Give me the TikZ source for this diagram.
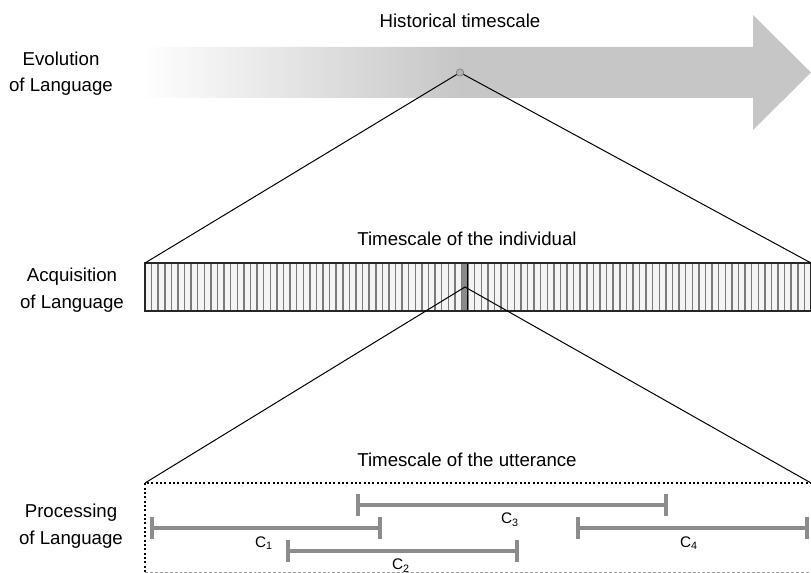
\documentclass[tikz,border=0pt]{standalone}
\usepackage{fontspec}
\setmainfont{Liberation Sans}
\usetikzlibrary{arrows.meta}

\definecolor{arrowgray}{RGB}{198,198,198}
\definecolor{spangray}{RGB}{140,140,140}
\definecolor{stripegray}{RGB}{122,122,122}
\definecolor{barfill}{RGB}{244,244,244}
\definecolor{markgray}{RGB}{138,138,138}

% fade of the historical arrow: white on the left, solid grey from the middle on
\pgfdeclarehorizontalshading{timefade}{100bp}{color(0bp)=(white); color(25bp)=(white); color(49bp)=(arrowgray); color(100bp)=(arrowgray)}

\tikzset{
  sidelabel/.style={align=center, inner sep=0pt, font=\fontsize{14}{20}\selectfont},
  scaletitle/.style={anchor=base, inner sep=0pt, font=\fontsize{14}{20}\selectfont},
  zoomline/.style={black, line width=0.75pt},
  stripe/.style={stripegray, line width=1.1pt},
  barborder/.style={draw=black!85, line width=1.1pt},
  uttedge/.style={black, line width=1.6pt, dash pattern=on 1.6pt off 1.65pt},
  uttbottom/.style={black!40, line width=0.5pt, dash pattern=on 2.2pt off 1.5pt},
  span/.style={spangray, line width=2.7pt,
    arrows={Bar[width=16.5pt, line width=3pt]-Bar[width=16.5pt, line width=3pt]}},
  spanlabel/.style={anchor=base, inner sep=0pt, font=\fontsize{11.5}{13}\selectfont},
  pivot/.style={circle, inner sep=0pt, minimum size=5.5pt, fill=black!30, draw=black!55, line width=0.4pt}
}

\begin{document}
\begin{tikzpicture}[x=0.75pt, y=-0.75pt]
\useasboundingbox (0,0) rectangle (811,573);

% historical timescale arrow
\shade[shading=timefade] (139,47) -- (753,47) -- (753,15) -- (811,72.5)
  -- (753,130) -- (753,98) -- (139,98) -- cycle;
\node[pivot] (pivot) at (460,72.5) {};

% individual timescale bar
\coordinate (acqNW) at (145,263);
\coordinate (acqNE) at (811,263);
\coordinate (acqSE) at (811,311);
\fill[barfill] (acqNW) rectangle (acqSE);
\foreach \i in {1,...,100} {
  \draw[stripe] ({145+\i*6.594},263) -- ({145+\i*6.594},311);
}
\fill[markgray] (461.5,263) rectangle (468,311);
\draw[black, line width=0.6pt] (467,263) -- (467,311);
\draw[barborder] (acqNW) rectangle (acqSE);
\coordinate (moment) at (465,287);

% utterance timescale frame
\coordinate (uttNW) at (145,483);
\coordinate (uttNE) at (811,483);
\coordinate (uttSW) at (145,572);
\coordinate (uttSE) at (811,572);
\draw[uttbottom] (uttSW) -- (uttSE);
\draw[uttedge] (uttSW) -- (uttNW) -- (uttNE);

% zoom lines
\draw[zoomline] (pivot) -- (acqNW);
\draw[zoomline] (pivot) -- (acqNE);
\draw[zoomline] (moment) -- (uttNW);
\draw[zoomline] (moment) -- (uttNE);

% side labels
\node[sidelabel] (evo) at (61,73.7) {Evolution\\of Language};
\node[sidelabel] (acq) at (72,290) {Acquisition\\of Language};
\node[sidelabel] (proc) at (71,526) {Processing\\of Language};

% timescale titles
\node[scaletitle] (hist) at (460,27.7) {Historical timescale};
\node[scaletitle] (indiv) at (467,246) {Timescale of the individual};
\node[scaletitle] (utt) at (467,467) {Timescale of the utterance};

% processing spans
\coordinate (c3a) at (356,505); \coordinate (c3b) at (668,505);
\coordinate (c1a) at (150,528); \coordinate (c1b) at (382,528);
\coordinate (c2a) at (286,551); \coordinate (c2b) at (519,551);
\coordinate (c4a) at (576,528); \coordinate (c4b) at (809,528);
\draw[span] (c3a) -- (c3b);
\draw[span] (c1a) -- (c1b);
\draw[span] (c2a) -- (c2b);
\draw[span] (c4a) -- (c4b);
\node[spanlabel] (l3) at (510,524) {C\textsubscript{3}};
\node[spanlabel] (l1) at (264,547) {C\textsubscript{1}};
\node[spanlabel] (l2) at (401,570) {C\textsubscript{2}};
\node[spanlabel] (l4) at (689,547) {C\textsubscript{4}};
\end{tikzpicture}
\end{document}
